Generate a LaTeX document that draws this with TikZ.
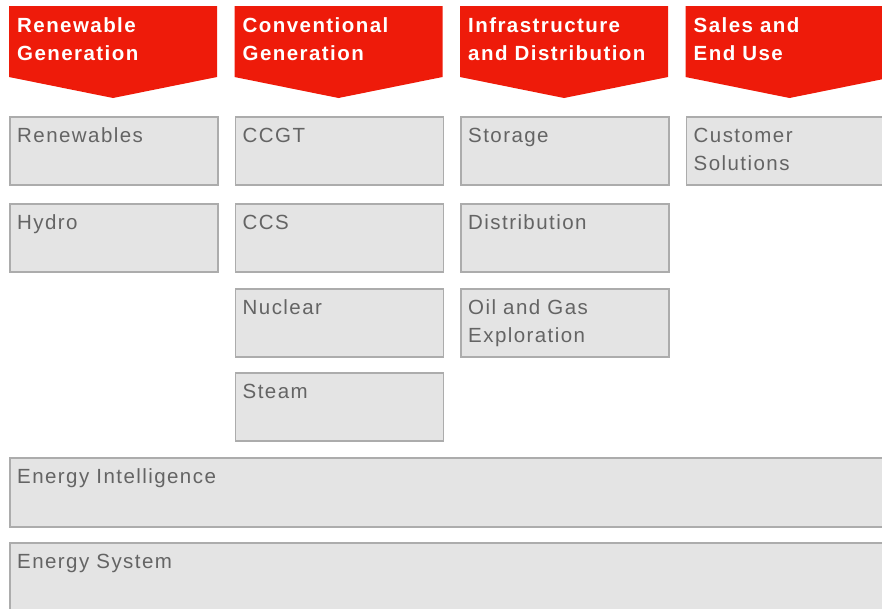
\documentclass[tikz,border=0pt]{standalone}
\usepackage{fontspec}
\setmainfont{Liberation Sans}[LetterSpace=7]
\definecolor{hdrred}{RGB}{238,27,10}
\definecolor{boxfill}{RGB}{228,228,228}
\definecolor{boxline}{RGB}{172,172,172}
\definecolor{boxtext}{RGB}{100,100,100}
\tikzset{
  hdrtext/.style={anchor=base west, align=left, inner sep=0pt, text=white,
    font=\fontsize{20.5}{28}\selectfont\bfseries},
  box/.style={draw=boxline, fill=boxfill, line width=1.6pt, anchor=north west,
    minimum width=208pt, minimum height=68pt, inner sep=0pt},
  wide/.style={box, minimum width=900pt, minimum height=69pt},
  boxlabel/.style={anchor=base west, align=left, inner sep=0pt, text=boxtext,
    font=\fontsize{20.5}{28}\selectfont},
}
% header: x, name, line1, line2 (base anchor = last line)
\newcommand{\hdr}[4]{%
  \fill[hdrred] (#1,6) -- ++(208,0) -- ++(0,71) -- ++(-104,21) -- ++(-104,-21) -- cycle;
  \node[hdrtext] (#2) at (#1+8,60) {#3\\#4};}
% box with one text line
\newcommand{\bx}[4]{%
  \node[box] (#3) at (#1,#2) {};
  \node[boxlabel] (#3-t) at ([xshift=8pt,yshift=-26pt]#3.north west) {#4};}
% box with two text lines
\newcommand{\bxx}[5]{%
  \node[box] (#3) at (#1,#2) {};
  \node[boxlabel] (#3-t) at ([xshift=8pt,yshift=-54pt]#3.north west) {#4\\#5};}
\begin{document}
\begin{tikzpicture}[x=1pt,y=-1pt]
\useasboundingbox (0,0) rectangle (882,608);
\clip (0,0) rectangle (882,608);
\hdr{9}{h1}{Renewable}{Generation}
\hdr{234.5}{h2}{Conventional}{Generation}
\hdr{460}{h3}{Infrastructure}{and Distribution}
\hdr{685.5}{h4}{Sales and}{End Use}
\bx{9}{116}{renew}{Renewables}
\bx{9}{203}{hydro}{Hydro}
\bx{234.5}{116}{ccgt}{CCGT}
\bx{234.5}{203}{ccs}{CCS}
\bx{234.5}{288}{nuclear}{Nuclear}
\bx{234.5}{372}{steam}{Steam}
\bx{460}{116}{storage}{Storage}
\bx{460}{203}{distr}{Distribution}
\bxx{460}{288}{oil}{Oil and Gas}{Exploration}
\bxx{685.5}{116}{cust}{Customer}{Solutions}
\node[wide] (ei) at (9,457) {};
\node[boxlabel] (ei-t) at ([xshift=8pt,yshift=-26pt]ei.north west) {Energy Intelligence};
\node[wide, minimum height=80pt] (es) at (9,542) {};
\node[boxlabel] (es-t) at ([xshift=8pt,yshift=-26pt]es.north west) {Energy System};
\end{tikzpicture}
\end{document}
